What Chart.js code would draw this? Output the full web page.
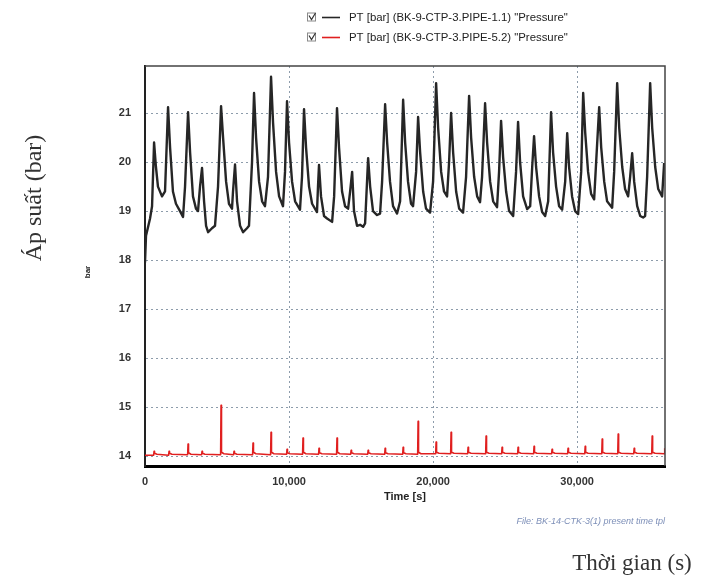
<!DOCTYPE html>
<html>
<head>
<meta charset="utf-8">
<script src="https://cdn.jsdelivr.net/npm/chart.js@4"></script>
<style>
  body { margin: 0; background: #fff; }
  #wrap { width: 710px; height: 581px; }
</style>
</head>
<body>
<div id="wrap"><canvas id="chart" width="710" height="581"></canvas></div>
<script>
// values (time in s, pressure in bar)
var blackTime = [
    0, 70, 350, 490, 630, 760, 900, 1180, 1390, 1600, 1740, 1940, 2150, 2430, 2640,
    2780, 2990, 3130, 3330, 3540, 3680, 3820, 3960, 4100, 4240, 4380, 4650, 4860,
    5070, 5280, 5420, 5630, 5830, 6040, 6110, 6250, 6390, 6600, 6810, 7080, 7220,
    7430, 7570, 7710, 7920, 8130, 8330, 8540, 8750, 8890, 9100, 9310, 9580, 9720,
    9860, 10000, 10210, 10420, 10760, 10900, 11040, 11180, 11390, 11600, 11940,
    12010, 12080, 12220, 12430, 12640, 12990, 13130, 13330, 13470, 13680, 13890,
    14100, 14240, 14380, 14510, 14720, 14930, 15140, 15280, 15490, 15630, 15830,
    16110, 16320, 16460, 16670, 16810, 17010, 17220, 17500, 17710, 17920, 18060,
    18260, 18470, 18610, 18820, 18960, 19100, 19310, 19510, 19790, 20000, 20210,
    20350, 20560, 20760, 20970, 21110, 21250, 21390, 21600, 21810, 22080, 22290,
    22500, 22640, 22850, 23060, 23260, 23400, 23610, 23750, 23960, 24170, 24440,
    24580, 24720, 24860, 25070, 25280, 25560, 25760, 25900, 26040, 26250, 26530,
    26740, 26880, 27010, 27150, 27360, 27570, 27780, 27990, 28190, 28330, 28540,
    28750, 28960, 29170, 29310, 29440, 29650, 29860, 30070, 30280, 30420, 30560,
    30760, 30970, 31180, 31320, 31530, 31670, 31880, 32080, 32430, 32570, 32780,
    32920, 33130, 33330, 33540, 33680, 33820, 33960, 34170, 34380, 34580, 34720,
    34860, 35070, 35210, 35420, 35630, 35900, 36040
];
var blackPressure = [
    17.95, 18.5, 18.85, 19.1, 20.4, 19.9, 19.5, 19.3, 19.4, 21.12, 20.3, 19.4, 19.15, 19.0, 18.88,
    19.5, 21.02, 20.2, 19.3, 19.05, 19.0, 19.5, 19.88, 19.2, 18.7, 18.57, 18.65, 18.7,
    19.5, 21.14, 20.5, 19.6, 19.15, 19.05, 19.4, 19.95, 19.2, 18.7, 18.57, 18.65, 18.7,
    20.0, 21.41, 20.5, 19.6, 19.2, 19.1, 19.7, 21.74, 20.8, 19.8, 19.3, 19.1, 19.8,
    21.24, 20.4, 19.6, 19.2, 19.03, 19.7, 21.08, 20.3, 19.5, 19.15, 18.98,
    19.5, 19.94, 19.3, 18.9, 18.85, 18.78, 19.3, 21.1, 20.3, 19.4, 19.1,
    19.05, 19.4, 19.8, 19.0, 18.7, 18.72, 18.68, 18.75, 20.08, 19.5, 19.0,
    18.92, 18.95, 19.6, 21.18, 20.4, 19.6, 19.1, 18.95, 19.2, 21.27, 20.4,
    19.6, 19.15, 19.1, 19.8, 20.92, 20.2, 19.4, 19.05, 18.97, 19.6, 21.61,
    20.7, 19.8, 19.4, 19.3, 20.0, 21.0, 20.2, 19.4, 19.05, 18.97, 19.7,
    21.35, 20.5, 19.7, 19.3, 19.18, 19.7, 21.2, 20.4, 19.6, 19.2, 19.08,
    19.8, 20.84, 20.1, 19.4, 19.0, 18.9, 19.8, 20.82, 20.0, 19.3, 19.04,
    19.1, 19.9, 20.53, 19.9, 19.3, 18.98, 18.9, 19.2, 21.02, 20.2, 19.5,
    19.1, 19.03, 19.6, 20.59, 19.9, 19.3, 19.0, 18.94, 19.8, 21.41, 20.6,
    19.8, 19.35, 19.24, 20.0, 21.12, 20.3, 19.6, 19.2, 19.07, 19.8, 21.61,
    20.7, 19.9, 19.45, 19.3, 19.7, 20.18, 19.6, 19.1, 18.9, 18.87, 18.9,
    19.7, 21.61, 20.7, 19.9, 19.45, 19.3, 19.98
];

var redTime = [
    0,
    600, 630, 660, 830,
    1640, 1670, 1700, 1870,
    2960, 2990, 3020, 3190,
    3930, 3960, 3990, 4160,
    5250, 5280, 5310, 5480,
    6150, 6180, 6210, 6380,
    7470, 7500, 7530, 7700,
    8720, 8750, 8780, 8950,
    9830, 9860, 9890, 10060,
    10940, 10970, 11000, 11170,
    12050, 12080, 12110, 12280,
    13300, 13330, 13360, 13530,
    14280, 14310, 14340, 14510,
    15460, 15490, 15520, 15690,
    16640, 16670, 16700, 16870,
    17890, 17920, 17950, 18120,
    18930, 18960, 18990, 19160,
    20180, 20210, 20240, 20410,
    21220, 21250, 21280, 21450,
    22400, 22430, 22460, 22630,
    23650, 23680, 23710, 23880,
    24760, 24790, 24820, 24990,
    25870, 25900, 25930, 26100,
    26980, 27010, 27040, 27210,
    28230, 28260, 28290, 28460,
    29340, 29370, 29400, 29570,
    30530, 30560, 30590, 30760,
    31710, 31740, 31770, 31940,
    32820, 32850, 32880, 33050,
    33930, 33960, 33990, 34160,
    35180, 35210, 35240, 35410,
    36050, 36080
];
var redPressure = [
    14.02,
    14.02, 14.10, 14.06, 14.04,
    14.02, 14.10, 14.06, 14.04,
    14.03, 14.25, 14.07, 14.04,
    14.03, 14.10, 14.06, 14.04,
    14.03, 15.04, 14.08, 14.05,
    14.03, 14.10, 14.06, 14.04,
    14.03, 14.27, 14.08, 14.05,
    14.03, 14.49, 14.08, 14.05,
    14.04, 14.14, 14.07, 14.05,
    14.04, 14.37, 14.08, 14.05,
    14.04, 14.16, 14.07, 14.05,
    14.04, 14.37, 14.08, 14.05,
    14.04, 14.12, 14.07, 14.05,
    14.04, 14.12, 14.07, 14.05,
    14.04, 14.16, 14.07, 14.05,
    14.04, 14.18, 14.07, 14.05,
    14.04, 14.71, 14.08, 14.05,
    14.05, 14.29, 14.08, 14.06,
    14.05, 14.49, 14.08, 14.06,
    14.05, 14.18, 14.08, 14.06,
    14.05, 14.41, 14.08, 14.06,
    14.05, 14.18, 14.08, 14.06,
    14.05, 14.18, 14.08, 14.06,
    14.05, 14.20, 14.08, 14.06,
    14.05, 14.14, 14.08, 14.06,
    14.05, 14.16, 14.08, 14.06,
    14.05, 14.20, 14.08, 14.06,
    14.05, 14.35, 14.08, 14.06,
    14.05, 14.45, 14.08, 14.06,
    14.05, 14.16, 14.08, 14.06,
    14.05, 14.41, 14.08, 14.06,
    14.05, 14.16
];

var seriesLabels = [
    'PT [bar] (BK-9-CTP-3.PIPE-1.1) "Pressure"',
    'PT [bar] (BK-9-CTP-3.PIPE-5.2) "Pressure"'
];
var seriesColors = ['#262626', '#e01f1f'];
var yTicks = [14, 15, 16, 17, 18, 19, 20, 21];
var xTicks = [0, 10000, 20000, 30000];

function pairs(xs, ys) {
    return xs.map(function (x, i) { return { x: x, y: ys[i] }; });
}

var tickFont = { family: 'Arial, "Liberation Sans"', size: 11, weight: 'bold' };

// texts around the plot and the legend
var decorations = {
    id: 'decorations',
    afterDraw: function (chart) {
        var ctx = chart.ctx;
        var a = chart.chartArea;
        ctx.save();

        // top and right frame
        ctx.strokeStyle = '#444';
        ctx.lineWidth = 1.5;
        ctx.beginPath();
        ctx.moveTo(a.left, a.top);
        ctx.lineTo(a.right, a.top);
        ctx.lineTo(a.right, a.bottom);
        ctx.stroke();

        // legend
        var rows = [17.5, 37.5];
        rows.forEach(function (y, i) {
            ctx.strokeStyle = '#8a8a8a';
            ctx.lineWidth = 1;
            ctx.strokeRect(307.5, y - 4.5, 8, 8);
            ctx.strokeStyle = '#333';
            ctx.lineWidth = 1.2;
            ctx.beginPath();
            ctx.moveTo(309, y - 2);
            ctx.lineTo(311.5, y + 2);
            ctx.lineTo(315.5, y - 4.5);
            ctx.stroke();
            ctx.strokeStyle = seriesColors[i];
            ctx.lineWidth = 1.6;
            ctx.beginPath();
            ctx.moveTo(322, y);
            ctx.lineTo(340, y);
            ctx.stroke();
            ctx.fillStyle = '#222';
            ctx.font = '11.4px "Liberation Sans Narrow", Arial';
            ctx.textAlign = 'left';
            ctx.textBaseline = 'middle';
            ctx.fillText(seriesLabels[i], 349, y);
        });

        // axis titles
        ctx.fillStyle = '#222';
        ctx.font = 'bold 11px Arial';
        ctx.textAlign = 'center';
        ctx.textBaseline = 'middle';
        ctx.fillText('Time [s]', 405, 497);

        ctx.save();
        ctx.translate(88, 272);
        ctx.rotate(-Math.PI / 2);
        ctx.font = 'bold 8px Arial';
        ctx.fillText('bar', 0, 0);
        ctx.restore();

        ctx.save();
        ctx.translate(35, 198);
        ctx.rotate(-Math.PI / 2);
        ctx.fillStyle = '#333';
        ctx.font = '24px "Liberation Serif", "DejaVu Serif", serif';
        ctx.fillText('Áp suất (bar)', 0, 0);
        ctx.restore();

        ctx.fillStyle = '#7d8fb8';
        ctx.font = 'italic 9px Arial';
        ctx.textAlign = 'right';
        ctx.fillText('File: BK-14-CTK-3(1) present time tpl', 665, 521);

        ctx.fillStyle = '#333';
        ctx.font = '23px "Liberation Serif", "DejaVu Serif", serif';
        ctx.textAlign = 'center';
        ctx.fillText('Thời gian (s)', 632, 564);

        ctx.restore();
    }
};

var myChart = new Chart(document.getElementById('chart'), {
    type: 'line',
    data: {
        datasets: [{
            label: seriesLabels[0],
            data: pairs(blackTime, blackPressure),
            borderColor: seriesColors[0],
            borderWidth: 2.4,
            borderJoinStyle: 'round',
            pointRadius: 0,
            tension: 0
        }, {
            label: seriesLabels[1],
            data: pairs(redTime, redPressure),
            borderColor: seriesColors[1],
            borderWidth: 1.6,
            borderJoinStyle: 'round',
            pointRadius: 0,
            tension: 0
        }]
    },
    options: {
        responsive: false,
        animation: false,
        layout: { padding: { left: 105, top: 66, right: 45, bottom: 85 } },
        plugins: {
            legend: { display: false },
            tooltip: { enabled: false }
        },
        scales: {
            x: {
                type: 'linear',
                min: 0,
                max: 36100,
                afterBuildTicks: function (s) { s.ticks = xTicks.map(function (v) { return { value: v }; }); },
                afterFit: function (s) { s.height = 30; },
                ticks: {
                    font: tickFont,
                    color: '#333',
                    padding: 9,
                    maxRotation: 0,
                    callback: function (v) { return v.toLocaleString('en-US'); }
                },
                grid: { color: '#8d9cab', lineWidth: 1, drawTicks: false },
                border: { color: '#000', width: 3, dash: [2, 3] }
            },
            y: {
                min: 13.8,
                max: 21.96,
                afterBuildTicks: function (s) { s.ticks = yTicks.map(function (v) { return { value: v }; }); },
                afterFit: function (s) { s.width = 40; },
                ticks: { font: tickFont, color: '#333', padding: 14 },
                grid: { color: '#8d9cab', lineWidth: 1, drawTicks: false },
                border: { color: '#222', width: 2, dash: [2, 3] }
            }
        }
    },
    plugins: [decorations]
});
</script>
</body>
</html>
